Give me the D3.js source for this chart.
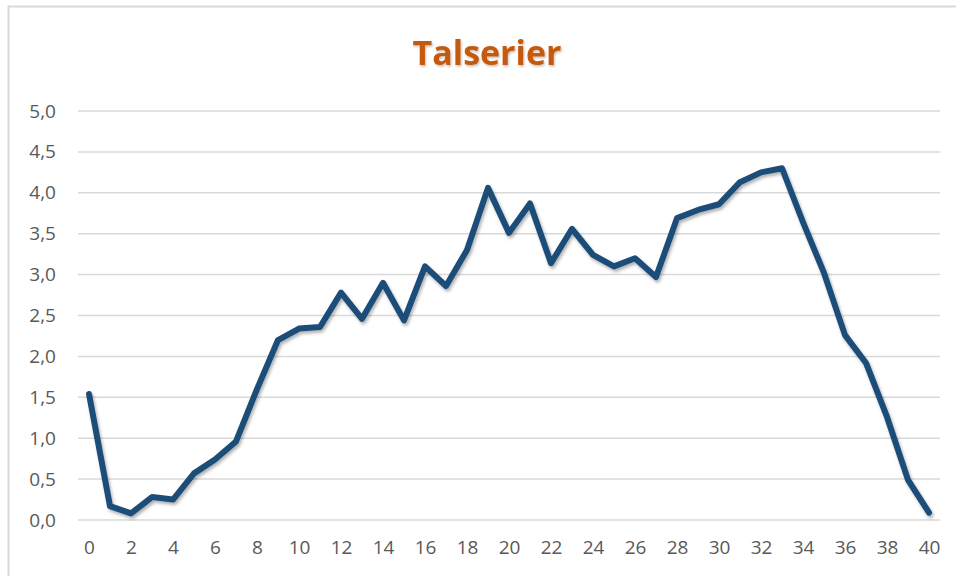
<!DOCTYPE html>
<html>
<head>
<meta charset="utf-8">
<script src="https://cdn.jsdelivr.net/npm/d3@7"></script>
<style>
	body { margin: 0; background: white; }
	svg { display: block; }
</style>
</head>
<body>
<div id="mainDiv"></div>
<script>
const chartTitle = "Talserier";
const xValues = [0,1,2,3,4,5,6,7,8,9,10,11,12,13,14,15,16,17,18,19,20,
                 21,22,23,24,25,26,27,28,29,30,31,32,33,34,35,36,37,38,39,40];
const yValues = [1.54,0.17,0.08,0.28,0.25,0.57,0.74,0.96,1.60,2.20,2.34,
                 2.36,2.78,2.46,2.90,2.44,3.10,2.86,3.30,4.06,3.51,
                 3.87,3.14,3.56,3.24,3.10,3.20,2.97,3.69,3.79,3.86,
                 4.13,4.25,4.30,3.64,3.02,2.26,1.92,1.26,0.49,0.09];
const yTicks = [0,0.5,1,1.5,2,2.5,3,3.5,4,4.5,5];
const xTicks = [0,2,4,6,8,10,12,14,16,18,20,22,24,26,28,30,32,34,36,38,40];

var width = 956, height = 576;
var svg = d3.select("#mainDiv").append("svg")
	.attr("width", width)
	.attr("height", height);

// drop shadows like the office chart
var defs = svg.append("defs");
defs.append("filter").attr("id","lineShadow")
	.attr("x","-5%").attr("y","-5%").attr("width","110%").attr("height","115%")
	.append("feDropShadow")
	.attr("dx",1.5).attr("dy",2.5).attr("stdDeviation",1.8)
	.attr("flood-color","#000").attr("flood-opacity",0.3);
defs.append("filter").attr("id","titleShadow")
	.append("feDropShadow")
	.attr("dx",1).attr("dy",1.5).attr("stdDeviation",1)
	.attr("flood-color","#000").attr("flood-opacity",0.25);

// outer chart border (runs off the right/bottom edge)
svg.append("rect")
	.attr("x",8.5).attr("y",6.5)
	.attr("width",1000).attr("height",1000)
	.attr("fill","white")
	.attr("stroke","#d9d9d9")
	.attr("stroke-width",2);

var x = d3.scaleLinear().domain([0,40]).range([89,929]);
var y = d3.scaleLinear().domain([0,5]).range([520,111]);

// gridlines
svg.append("g").selectAll("line")
	.data(yTicks)
	.enter().append("line")
	.attr("x1",78).attr("x2",940)
	.attr("y1",d => y(d)).attr("y2",d => y(d))
	.attr("stroke","#d9d9d9")
	.attr("stroke-width",1.5);

// y axis labels
var yAxis = d3.axisLeft(y)
	.tickValues(yTicks)
	.tickSize(0)
	.tickPadding(0)
	.tickFormat(d => d3.format(".1f")(d).replace(".",","));
svg.append("g")
	.attr("transform","translate(56,0)")
	.call(yAxis)
	.call(g => g.select(".domain").remove())
	.selectAll("text")
	.attr("fill","#595959")
	.style("font-family","'Open Sans', sans-serif")
	.style("font-size","19px");

// x axis labels
var xAxis = d3.axisBottom(x)
	.tickValues(xTicks)
	.tickSize(0)
	.tickPadding(0)
	.tickFormat(d3.format("d"));
svg.append("g")
	.attr("transform","translate(0,540)")
	.call(xAxis)
	.call(g => g.select(".domain").remove())
	.selectAll("text")
	.attr("fill","#595959")
	.style("font-family","'Open Sans', sans-serif")
	.style("font-size","19px");

// the series
var line = d3.line()
	.x((d,i) => x(xValues[i]))
	.y(d => y(d));
svg.append("path")
	.datum(yValues)
	.attr("d",line)
	.attr("fill","none")
	.attr("stroke","#1f4e79")
	.attr("stroke-width",6)
	.attr("stroke-linejoin","round")
	.attr("stroke-linecap","round")
	.attr("filter","url(#lineShadow)");

// title
svg.append("text")
	.attr("x",487)
	.attr("y",65)
	.attr("text-anchor","middle")
	.attr("fill","#c55a11")
	.attr("filter","url(#titleShadow)")
	.style("font-family","'Open Sans', sans-serif")
	.style("font-weight","bold")
	.style("font-size","34px")
	.text(chartTitle);
</script>
</body>
</html>
